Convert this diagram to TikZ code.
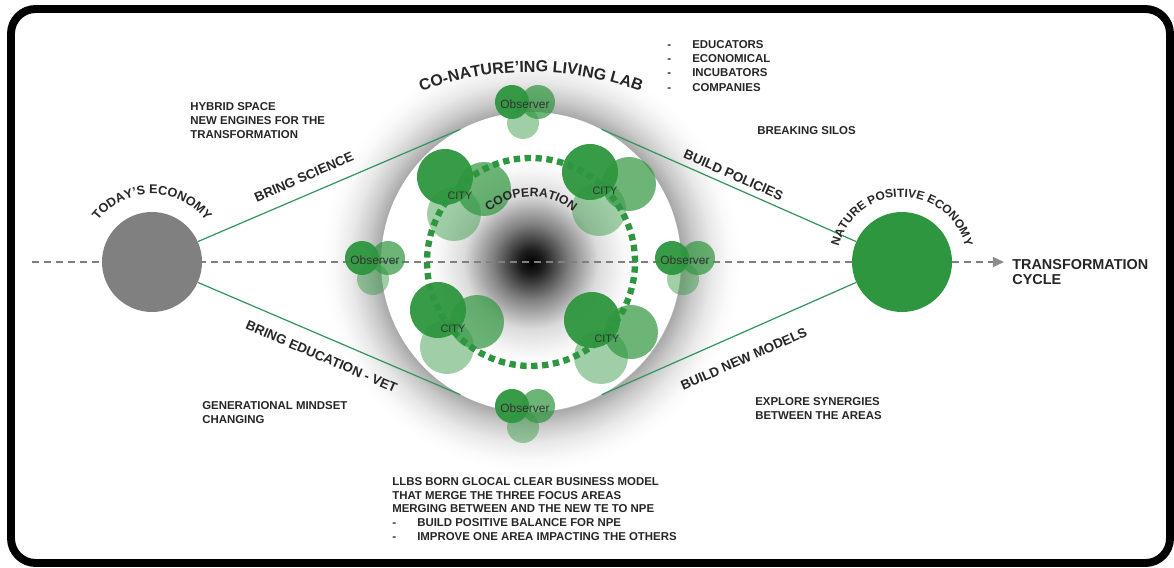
\documentclass[tikz,border=0pt]{standalone}
\usepackage{fontspec}
\setmainfont{Liberation Sans}
\usetikzlibrary{%
  arrows.meta,%
  calc,%
  decorations.text%
}
\definecolor{npegreen}{RGB}{46,150,62}
\definecolor{linkgreen}{RGB}{52,150,92}
\definecolor{todaygray}{RGB}{128,128,128}
\pgfdeclareradialshading{halo}{\pgfpoint{0bp}{0bp}}{color(0bp)=(white); color(17.5bp)=(white);
  color(17.9bp)=(black!34); color(19.5bp)=(black!21); color(21.5bp)=(black!9); color(23.5bp)=(black!2);
  color(25bp)=(white); color(50bp)=(white)}
\pgfdeclareradialshading{core}{\pgfpoint{0bp}{0bp}}{color(0bp)=(black); color(3bp)=(black!88);
  color(9bp)=(black!50); color(16bp)=(black!14); color(22bp)=(black!3); color(25bp)=(white);
  color(50bp)=(white)}
\tikzset{>=latex, link/.style={draw=linkgreen, line width=0.7pt},
  econ/.style={circle, minimum size=2cm, inner sep=0pt},
  axis/.style={draw=black!50, line width=0.6pt, dash pattern=on 4pt off 2.8pt,
    -{Triangle[length=6.3pt, width=5.7pt, color=black!45, fill=black!45]}},
  ring/.style={draw=npegreen, line width=3.6pt, dash pattern=on 3.6pt off 2.6pt},
  gdark/.style={fill=npegreen, fill opacity=.95},
  gmid/.style={fill=npegreen, fill opacity=.7},
  glight/.style={fill=npegreen, fill opacity=.45},
  lbl/.style={font=\bfseries\fontsize{6.5}{8.1}\selectfont, text=black!85, align=left,
    inner sep=0pt, anchor=north west},
  linklbl/.style={font=\bfseries\fontsize{7.6}{9}\selectfont, text=black!85, sloped, inner sep=0pt},
  citytxt/.style={font=\fontsize{6.2}{7}\selectfont, text=black!80, inner sep=0pt},
  obstxt/.style={font=\fontsize{6.8}{8}\selectfont, text=black!80, inner sep=0pt},
  arctext/.style 2 args={decorate, decoration={text along path, text align=center,
    text color=black!85, text={|\bfseries\fontsize{#1}{#1}\selectfont|#2}}}}

\begin{document}
\begin{tikzpicture}
  \useasboundingbox (0,0) rectangle (23.48,11.34);
  \draw[line width=4.5pt, rounded corners=14pt] (0.22,0.08) rectangle (23.40,11.16);
  % living lab
  \shade[shading=halo] (10.62,6.10) circle (4.2);
  \node[circle, fill=white, minimum size=6cm, inner sep=0pt] (lab) at (10.62,6.10) {};
  \shade[shading=core] (lab.center) circle (2.1);
  % axis
  \coordinate (axstart) at (0.64,6.10);
  \coordinate (axend) at (20.08,6.10);
  \draw[axis] (axstart) -- (axend);
  \node[econ, fill=todaygray] (today) at (3.04,6.10) {};
  \node[econ, fill=npegreen] (npe) at (18.04,6.10) {};
  \draw[link] (today.24) -- (lab.118) node[linklbl, pos=.43, above=7pt] (sci) {BRING SCIENCE};
  \draw[link] (today.-24) -- (lab.-118) node[linklbl, pos=.5, below=8pt] (edu) {BRING EDUCATION - VET};
  \draw[link] (lab.62) -- (npe.156) node[linklbl, pos=.5, above=3.5pt] (pol) {BUILD POLICIES};
  \draw[link] (lab.-62) -- (npe.-156) node[linklbl, pos=.52, below=11pt] (mod) {BUILD NEW MODELS};
  \draw[ring] (lab.center) circle (2.08);
  % cities and observers
  \foreach \x/\y [count=\i] in {8.90/7.80, 11.80/7.90, 8.76/5.14, 11.84/4.94} {
    \fill[glight] (\x+0.18,\y-0.74) circle (0.54);
    \fill[gmid] (\x+0.78,\y-0.24) circle (0.54);
    \fill[gdark] (\x,\y) circle (0.56);
    \node[citytxt] (city\i) at (\x+0.30,\y-0.38) {CITY};
  }
  \foreach \x/\y [count=\i] in {10.24/9.30, 7.24/6.18, 13.44/6.18, 10.24/3.22} {
    \fill[glight] (\x+0.22,\y-0.42) circle (0.32);
    \fill[gmid] (\x+0.52,\y) circle (0.34);
    \fill[gdark] (\x,\y) circle (0.34);
    \node[obstxt] (obs\i) at (\x+0.26,\y-0.04) {Observer};
  }
  % curved titles
  \path[arctext={7.2}{TODAY'S ECONOMY}] (today.center) ++(175:1.36) arc[start angle=175, end angle=5, radius=1.36];
  \path[arctext={6.8}{NATURE POSITIVE ECONOMY}] (npe.center) ++(195:1.30) arc[start angle=195, end angle=-15, radius=1.30];
  \path[arctext={9.1}{CO-NATURE'ING LIVING LAB}] (10.62,3.66) ++(130:6.24) arc[start angle=130, end angle=50, radius=6.24];
  \path[arctext={7}{COOPERATION}] (lab.center) ++(170:1.31) arc[start angle=170, end angle=10, radius=1.31];
  % notes
  \node[lbl] (hybrid) at (3.80,9.30) {HYBRID SPACE\\NEW ENGINES FOR THE\\TRANSFORMATION};
  \node[lbl] (partners) at (13.34,10.54) {\makebox[14.2pt][l]{-}EDUCATORS\\\makebox[14.2pt][l]{-}ECONOMICAL\\
    \makebox[14.2pt][l]{-}INCUBATORS\\\makebox[14.2pt][l]{-}COMPANIES};
  \node[lbl] (silos) at (15.14,8.82) {BREAKING SILOS};
  \node[lbl, font=\bfseries\fontsize{8.2}{8.5}\selectfont] (cycle) at (20.24,6.16) {TRANSFORMATION\\CYCLE};
  \node[lbl] (mindset) at (4.04,3.32) {GENERATIONAL MINDSET\\CHANGING};
  \node[lbl] (synergy) at (15.10,3.40) {EXPLORE SYNERGIES\\BETWEEN THE AREAS};
  \node[lbl, font=\bfseries\fontsize{6.5}{7.8}\selectfont] (glocal) at (7.84,1.80) {LLBS BORN GLOCAL CLEAR BUSINESS MODEL\\
    THAT MERGE THE THREE FOCUS AREAS\\MERGING BETWEEN AND THE NEW TE TO NPE\\
    \makebox[14.2pt][l]{-}BUILD POSITIVE BALANCE FOR NPE\\\makebox[14.2pt][l]{-}IMPROVE ONE AREA IMPACTING THE OTHERS};
\end{tikzpicture}
\end{document}
